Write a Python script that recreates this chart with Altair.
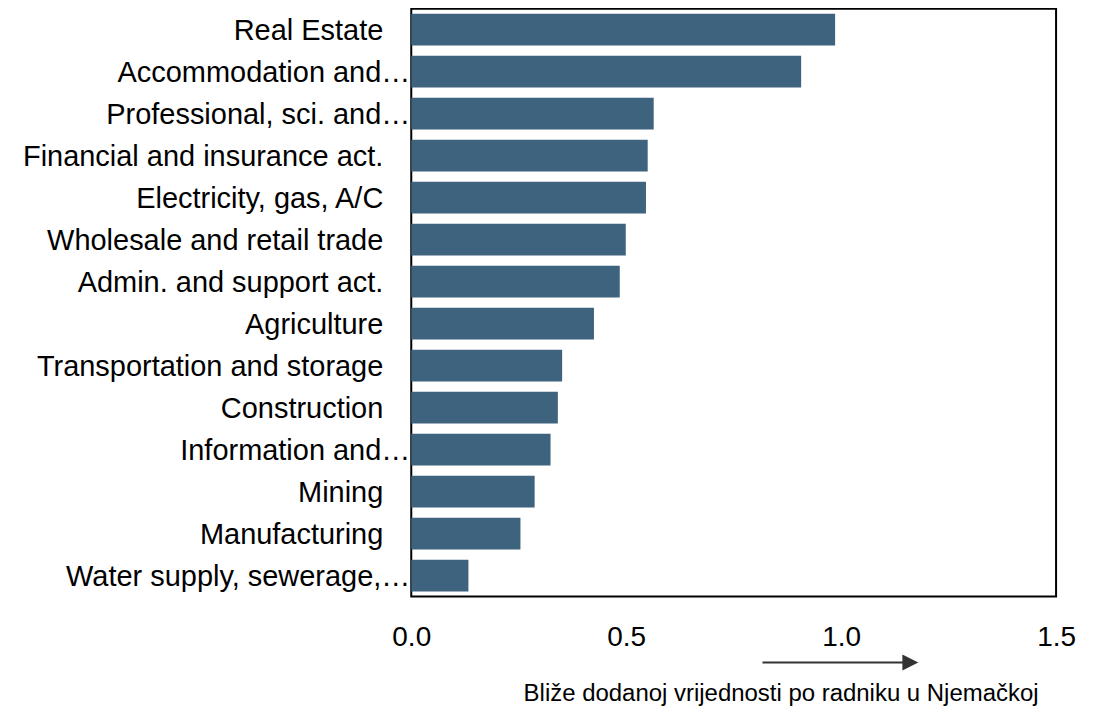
import altair as alt
import pandas as pd

sectors = [
    "Real Estate",
    "Accommodation and…",
    "Professional, sci. and…",
    "Financial and insurance act.",
    "Electricity, gas, A/C",
    "Wholesale and retail trade",
    "Admin. and support act.",
    "Agriculture",
    "Transportation and storage",
    "Construction",
    "Information and…",
    "Mining",
    "Manufacturing",
    "Water supply, sewerage,…",
]
values = [0.986, 0.907, 0.564, 0.550, 0.546, 0.499, 0.485, 0.425,
          0.351, 0.341, 0.324, 0.287, 0.254, 0.133]
x_ticks = [0.0, 0.5, 1.0, 1.5]
arrow_start = [0.817]
arrow_tip = [1.161]
x_title = "Bliže dodanoj vrijednosti po radniku u Njemačkoj"

FONT = "Liberation Sans"
BAR = "#3e637e"
ARROW = "#333333"

df = pd.DataFrame({"sector": sectors, "value": values})
arrow_df = pd.DataFrame({"value": arrow_start, "tip": arrow_tip})

yenc = alt.Y("sector:N", sort=sectors,
             scale=alt.Scale(paddingInner=0.245, paddingOuter=0.12),
             axis=None)

xaxis = alt.Axis(values=x_ticks, format=".1f", grid=False,
                 domain=False, ticks=False, tickSize=0,
                 labelFlush=False, labelFont=FONT, labelFontSize=28,
                 labelColor="black", labelPadding=27,
                 title=x_title, titleFont=FONT, titleFontSize=24,
                 titleFontWeight="normal", titleColor="black",
                 titleX=370, titleY=104, titleAlign="center",
                 titleBaseline="alphabetic")
xscale = alt.Scale(domain=[0, 1.5], nice=False)

bars = alt.Chart(df).mark_bar(color=BAR).encode(
    x=alt.X("value:Q", scale=xscale, axis=xaxis, title=x_title),
    y=yenc,
)

labels_full = alt.Chart(df).transform_filter(
    "indexof(datum.sector, '…') < 0"
).mark_text(align="right", baseline="middle", font=FONT, fontSize=29,
            color="black", dy=1.5).encode(
    y=yenc, x=alt.value(-28), text="sector:N")

labels_cut = alt.Chart(df).transform_filter(
    "indexof(datum.sector, '…') >= 0"
).mark_text(align="right", baseline="middle", font=FONT, fontSize=29,
            color="black", dy=1.5).encode(
    y=yenc, x=alt.value(-1), text="sector:N")

arrow_line = alt.Chart(arrow_df).mark_rule(color=ARROW, strokeWidth=2).encode(
    x=alt.X("value:Q", scale=xscale, axis=xaxis, title=x_title),
    x2="tip:Q", y=alt.value(655))

arrow_head = alt.Chart(arrow_df).mark_point(
    shape="M-1,-1L1,0L-1,1Z", filled=True, size=256, color=ARROW,
    opacity=1, strokeWidth=0).encode(
    x=alt.X("tip:Q", scale=xscale, axis=xaxis, title=x_title),
    y=alt.value(655))

chart = alt.layer(bars, labels_full, labels_cut, arrow_line, arrow_head).properties(
    width=646, height=589,
    autosize=alt.AutoSizeParams(type="none"),
    padding={"left": 404, "top": 0, "right": 38, "bottom": 109},
    background="white",
).configure_view(stroke="black", strokeWidth=2)

chart.save("out.html", embed_options={"renderer": "svg", "actions": False})
